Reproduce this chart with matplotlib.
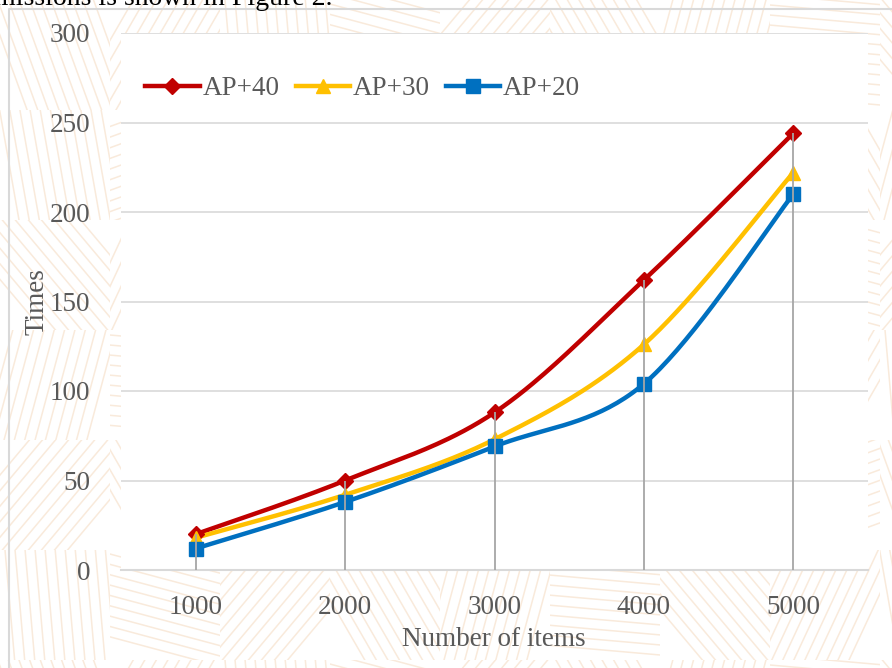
import matplotlib.pyplot as plt
import numpy as np

# --- Data ---
items = [1000, 2000, 3000, 4000, 5000]
ap40 = [20, 50, 88, 162, 244]
ap30 = [18, 42, 73, 126, 222]
ap20 = [12, 38, 69, 104, 210]
series_names = ['AP+40', 'AP+30', 'AP+20']

plt.rcParams['font.family'] = ['Liberation Serif', 'DejaVu Serif']

W, H = 892, 668
fig = plt.figure(figsize=(W / 100, H / 100), dpi=100)
fig.patch.set_facecolor('white')

# --- decorative striped background ---
bg = fig.add_axes([0, 0, 1, 1], zorder=0)
bg.set_xlim(0, W)
bg.set_ylim(H, 0)
bg.axis('off')
stripe_col = '#f9eadb'
angles = [70, -60, 85, 15, -50, 60, -75, 5, 50, -65, 80, -20]
tile = 110
k = 0
for ty in range(0, H + tile, tile):
    for tx in range(0, W + tile, tile):
        a = np.deg2rad(angles[k % len(angles)])
        k += 1
        d = np.array([np.cos(a), np.sin(a)])
        nrm = np.array([-d[1], d[0]])
        cx, cy = tx + tile / 2, ty + tile / 2
        for off in np.arange(-tile / 2, tile / 2, 10):
            p0 = np.array([cx, cy]) + nrm * off - d * tile
            p1 = np.array([cx, cy]) + nrm * off + d * tile
            ln, = bg.plot([p0[0], p1[0]], [p0[1], p1[1]], color=stripe_col, lw=1.1)
            ln.set_clip_path(plt.Rectangle((tx, ty), tile, tile, transform=bg.transData))
# chart border
bg.plot([9, 9, W + 5], [H + 5, 9, 9], color='#d9d9d9', lw=1.5)
# cropped body text above the chart
fig.text(333 / W, 1 - 5 / H, 'missions is shown in Figure 2.', ha='right', va='baseline',
         fontsize=20, color='black')

# --- plot area ---
ax = fig.add_axes([121 / W, 1 - 570 / H, (868 - 121) / W, (570 - 33) / H], zorder=2)
ax.set_facecolor('white')
x = np.arange(len(items))


def smooth(xs, ys, n=40):
    # Excel-style bezier smoothing through the points
    pts = np.column_stack([xs, ys]).astype(float)
    out = [pts[0]]
    for i in range(len(pts) - 1):
        p0 = pts[i - 1] if i > 0 else pts[i]
        p1, p2 = pts[i], pts[i + 1]
        p3 = pts[i + 2] if i + 2 < len(pts) else pts[i + 1]
        c1 = p1 + (p2 - p0) / 6
        c2 = p2 - (p3 - p1) / 6
        t = np.linspace(0, 1, n)[1:, None]
        seg = (1 - t) ** 3 * p1 + 3 * (1 - t) ** 2 * t * c1 + 3 * (1 - t) * t ** 2 * c2 + t ** 3 * p2
        out.extend(seg)
    out = np.array(out)
    return out[:, 0], out[:, 1]


styles = [('#c00000', 'D', 8), ('#ffc000', '^', 10), ('#0070c0', 's', 10)]
for vals, name, (col, mk, ms) in zip([ap40, ap30, ap20], series_names, styles):
    sx, sy = smooth(x, vals)
    ax.plot(sx, sy, color=col, lw=3.2, solid_capstyle='round', zorder=3)
    ax.plot(x, vals, ls='none', marker=mk, ms=ms, color=col, zorder=4)
    ax.plot([], [], color=col, lw=3.2, marker=mk, ms=ms, label=name)

# drop lines
tops = np.max([ap40, ap30, ap20], axis=0)
ax.vlines(x, 0, tops, color='#a6a6a6', lw=1.3, zorder=5)

ax.set_xlim(-0.5, len(items) - 0.5)
ax.set_ylim(0, 300)
ax.set_yticks(np.arange(0, 301, 50))
ax.set_xticks(x)
ax.set_xticklabels([str(v) for v in items])
ax.grid(axis='y', color='#d9d9d9', lw=1.2, zorder=0)
ax.set_axisbelow(True)
for s in ['left', 'right', 'top']:
    ax.spines[s].set_visible(False)
ax.spines['bottom'].set_color('#d9d9d9')
ax.spines['bottom'].set_linewidth(1.5)
ax.tick_params(length=0, labelsize=19.5, labelcolor='#595959')
ax.tick_params(axis='y', pad=22)
ax.tick_params(axis='x', pad=18)

fig.text(37 / W, 1 - 302 / H, 'Times', rotation=90, ha='center', va='center',
         fontsize=19.5, color='#595959')
fig.text(494 / W, 1 - 640 / H, 'Number of items', ha='center', va='center',
         fontsize=19.5, color='#595959')

leg = ax.legend(loc='upper left', bbox_to_anchor=(0.0, 0.965), ncol=3, frameon=False,
                fontsize=19.5, handlelength=2.0, handletextpad=0.1, columnspacing=0.6,
                labelcolor='#595959')

fig.savefig('out.png', dpi=100)
